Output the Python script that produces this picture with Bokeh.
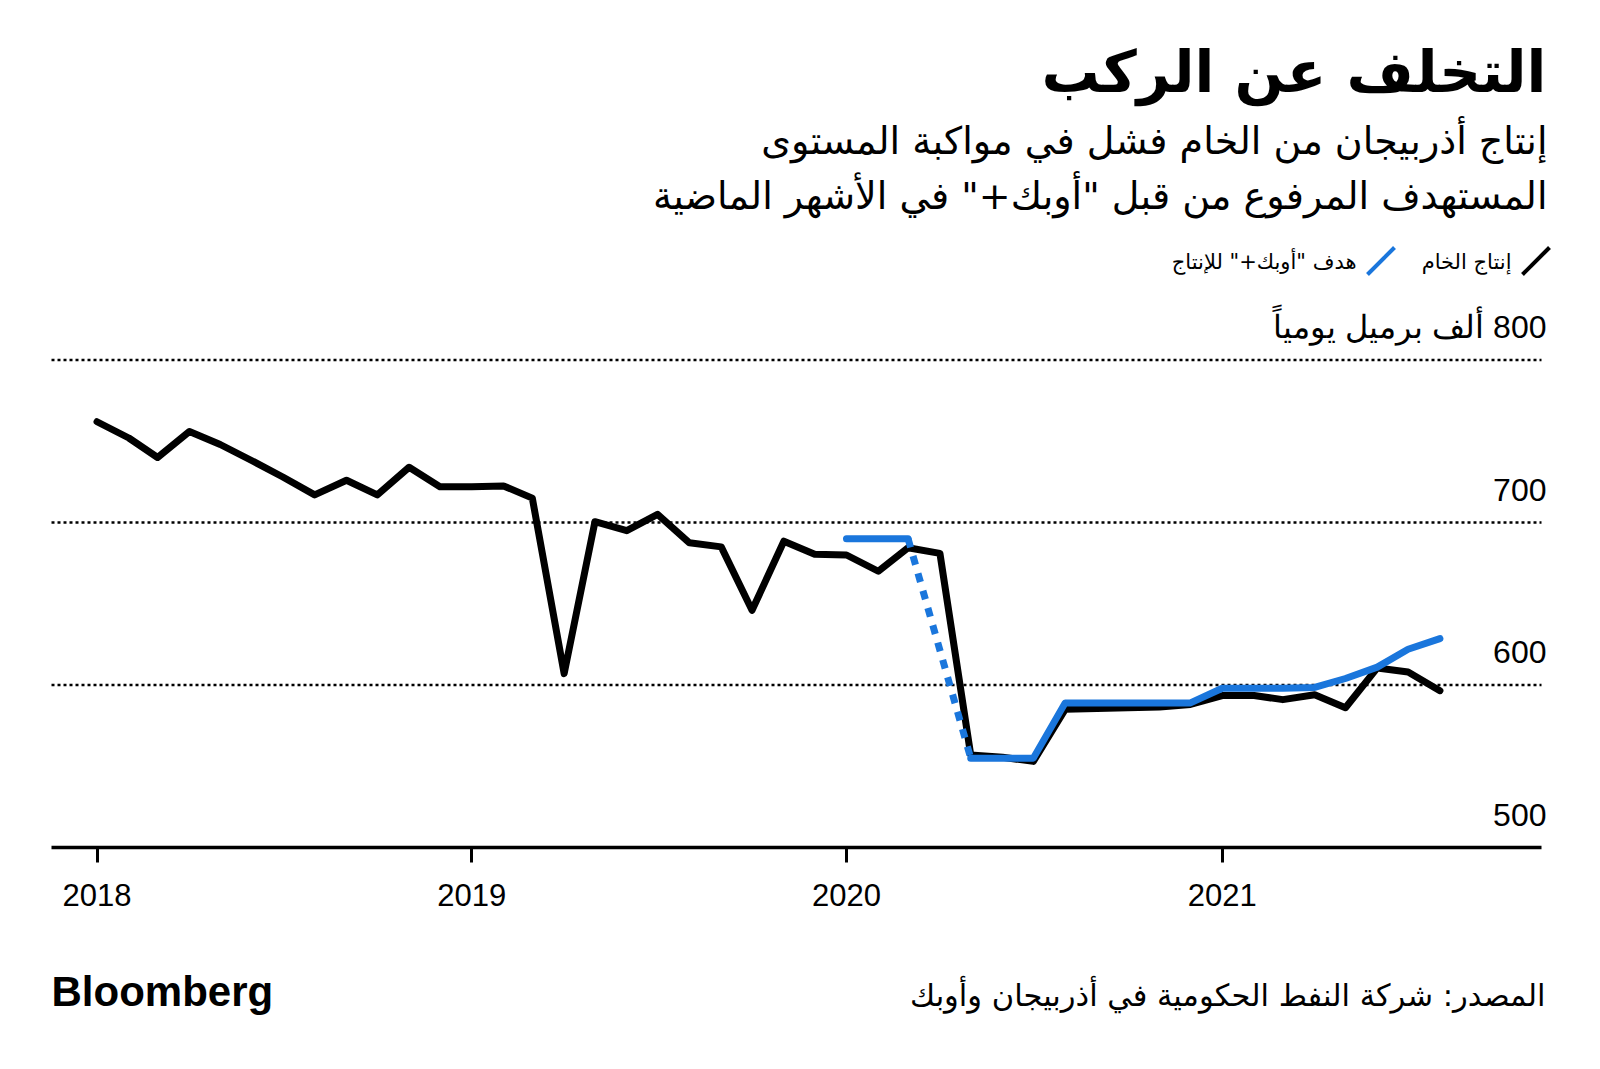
import numpy as np
import pandas as pd
from bokeh.plotting import figure
from bokeh.layouts import column
from bokeh.models import (ColumnDataSource, Range1d, FixedTicker, DatetimeTickFormatter,
                          Label, LabelSet, Arrow)
from bokeh.embed import file_html
from bokeh.resources import INLINE
from bokeh.core.properties import value

# ---------------- data ----------------
months = [d.strftime("%Y-%m") for d in pd.date_range("2018-01-01", "2021-08-01", freq="MS")]
production = [762, 752, 740, 756, 748, 738, 728, 717, 726, 717, 734, 722,
              722, 722.5, 715, 607, 700.5, 695, 705, 687.5, 685, 646, 688.5, 680.5,
              680, 670, 684.5, 681, 557, 555.5, 553, 585, 585.5, 586, 586.5, 588,
              593.5, 593.5, 591, 594, 586, 610.5, 608, 596.5]

target_months = [d.strftime("%Y-%m") for d in pd.date_range("2020-01-01", "2021-08-01", freq="MS")]
target = [690, 690, 690, np.nan, 555, 555, 555, 589, 589, 589, 589, 589,
          598, 598, 598, 598.5, 604, 611, 622, 628.5]

year_ticks = ["2018", "2019", "2020", "2021"]
y_ticks = [500, 600, 700, 800]
y_tick_labels = ["500", "600", "700", "800 ألف برميل يومياً"]

title_text = "التخلف عن الركب"
subtitle_1 = "إنتاج أذربيجان من الخام فشل في مواكبة المستوى"
subtitle_2 = "المستهدف المرفوع من قبل \"أوبك+\" في الأشهر الماضية"
legend_prod = "إنتاج الخام"
legend_target = "هدف \"أوبك+\" للإنتاج"
source_text = "المصدر: شركة النفط الحكومية في أذربيجان وأوبك"
brand_text = "Bloomberg"

# ---------------- layout / styling ----------------
RLM = "\u200f"
ARABIC = "DejaVu Sans"
NUM = "Liberation Sans"
BLUE = "#1a76dc"

W = 1590
H1, H2 = 940, 120
AXIS_Y = 847            # page y of the baseline (value 500)
PX_PER_100 = 162.5
PX_PER_YEAR = 375.0
X2018 = 96.5            # page x of Jan 1 2018
CHART_L, CHART_R = 51, 1541
YEAR_MS = 365.25 * 86400000.0
MS_PER_PX = YEAR_MS / PX_PER_YEAR

t0 = pd.Timestamp("2018-01-01").value / 1e6
x_start = t0 - X2018 * MS_PER_PX
x_end = x_start + W * MS_PER_PX
x_left = x_start + CHART_L * MS_PER_PX
x_right = x_start + CHART_R * MS_PER_PX
y_lo = y_ticks[0]
y_hi = y_lo + AXIS_Y * 100.0 / PX_PER_100

prod_src = ColumnDataSource(dict(date=pd.to_datetime(months), prod=production))
tgt_src = ColumnDataSource(dict(date=pd.to_datetime(target_months), tgt=target))

# dotted connector across the gap in the target series
tarr = np.array(target, dtype=float)
gap = [i for i in range(len(tarr)) if np.isnan(tarr[i])]
i0, i1 = gap[0] - 1, gap[-1] + 1
dot_src = ColumnDataSource(dict(date=pd.to_datetime([target_months[i0], target_months[i1]]),
                                tgt=[target[i0], target[i1]]))

p = figure(width=W, height=H1, x_axis_type="datetime", y_axis_location=None,
           x_range=Range1d(x_start, x_end), y_range=Range1d(y_lo, y_hi),
           output_backend="svg", toolbar_location=None,
           min_border_left=0, min_border_right=0,
           min_border_top=0, min_border_bottom=H1 - AXIS_Y)
p.outline_line_color = None
p.background_fill_color = "white"
p.border_fill_color = "white"
p.xgrid.visible = False
p.ygrid.visible = False

# dotted horizontal gridlines (limited to the chart width)
grid_vals = [t for t in y_ticks if t > y_lo]
grid_src = ColumnDataSource(dict(x0=[x_left] * len(grid_vals), x1=[x_right] * len(grid_vals),
                                 y=grid_vals))
p.segment(x0="x0", x1="x1", y0="y", y1="y", source=grid_src, line_color="black",
          line_width=2.5, line_dash="3 3")

# x axis
p.xaxis.bounds = (x_left, x_right)
p.xaxis.ticker = FixedTicker(ticks=[pd.Timestamp(f"{y}-01-01").value / 1e6 for y in year_ticks])
p.xaxis.formatter = DatetimeTickFormatter(years="%Y", months="%Y", days="%Y",
                                          hours="%Y", hourmin="%Y", minutes="%Y")
p.xaxis.axis_line_width = 3.5
p.xaxis.axis_line_color = "black"
p.xaxis.major_tick_line_width = 3
p.xaxis.major_tick_line_color = "black"
p.xaxis.major_tick_in = 0
p.xaxis.major_tick_out = 15
p.xaxis.minor_tick_line_color = None
p.xaxis.major_label_text_font = NUM
p.xaxis.major_label_text_font_size = "31px"
p.xaxis.major_label_text_color = "black"
p.xaxis.major_label_standoff = 21

# lines
p.line("date", "prod", source=prod_src, line_color="black", line_width=7,
       line_join="round", line_cap="round")
p.line("date", "tgt", source=dot_src, line_color=BLUE, line_width=7,
       line_dash="9 9")
p.line("date", "tgt", source=tgt_src, line_color=BLUE, line_width=7,
       line_join="round", line_cap="round")

# y labels (right side, above gridlines)
ylab_src = ColumnDataSource(dict(y=y_ticks, text=[RLM + t for t in y_tick_labels]))
p.add_layout(LabelSet(x=1546, x_units="screen", y="y", text="text", source=ylab_src,
                      y_offset=22, text_align="right", text_baseline="alphabetic",
                      text_font=value(NUM), text_font_size=value("32px"),
                      text_color="black"))

def lab(fig, text, x, y, size, font=ARABIC, align="right", bold=False):
    fig.add_layout(Label(x=x, y=y, x_units="screen", y_units="screen", text=text,
                         text_align=align, text_baseline="middle",
                         text_font=font, text_font_size=size,
                         text_font_style="bold" if bold else "normal",
                         text_color="black"))

# header (page y of text centre -> screen y = AXIS_Y - page_y)
lab(p, RLM + title_text + RLM, 1546, AXIS_Y - 71, "58px", bold=True)
lab(p, RLM + subtitle_1 + RLM, 1547, AXIS_Y - 140, "38px")
lab(p, RLM + subtitle_2 + RLM, 1547, AXIS_Y - 195, "38px")
lab(p, RLM + legend_prod + RLM, 1511, AXIS_Y - 261, "21px")
lab(p, RLM + legend_target + RLM, 1356, AXIS_Y - 261, "21px")
p.add_layout(Arrow(end=None, x_start=1522, y_start=AXIS_Y - 274, x_end=1549, y_end=AXIS_Y - 247,
                   start_units="screen", end_units="screen",
                   line_color="black", line_width=4))
p.add_layout(Arrow(end=None, x_start=1367, y_start=AXIS_Y - 274, x_end=1394, y_end=AXIS_Y - 247,
                   start_units="screen", end_units="screen",
                   line_color=BLUE, line_width=4))

# footer figure
f = figure(width=W, height=H2, x_range=Range1d(0, 1), y_range=Range1d(0, 1),
           x_axis_location=None, y_axis_location=None,
           output_backend="svg", toolbar_location=None,
           min_border_left=0, min_border_right=0, min_border_top=0, min_border_bottom=0)
f.outline_line_color = None
f.xgrid.visible = False
f.ygrid.visible = False
FOOT_BOTTOM = H1 + H2
lab(f, brand_text, 51, FOOT_BOTTOM - 991, "42px", font=NUM, align="left", bold=True)
lab(f, RLM + source_text + RLM, 1545, FOOT_BOTTOM - 995, "30.5px")

layout = column(p, f, spacing=0)
open("out.html", "w").write(file_html(layout, INLINE))
